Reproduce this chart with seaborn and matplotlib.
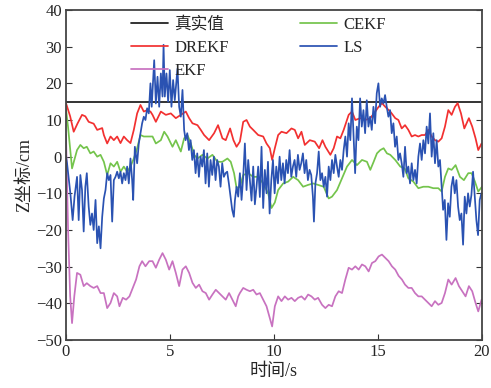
import matplotlib
matplotlib.use('Agg')
import matplotlib.pyplot as plt
import seaborn as sns
import pandas as pd

# values, (time s, Z cm)
truth_pts = [(0, 15), (20, 15)]

drekf_pts = [(0, 14.6), (0.2, 11), (0.37, 6.8), (0.55, 9), (0.77, 11.4), (0.93, 11), (1.09, 9.5), (1.33, 9),
             (1.5, 7.3), (1.74, 7.8), (1.82, 5.9), (1.98, 3.6), (2.14, 5.5), (2.3, 4.5), (2.46, 5.5), (2.62, 3.7),
             (2.78, 5.5), (2.94, 4.5), (3.1, 3.7), (3.26, 7.3), (3.42, 11.8), (3.58, 14.1), (3.74, 12.3),
             (3.9, 12.7), (4.06, 12.3), (4.16, 11.4), (4.32, 9.5), (4.56, 12.3), (4.8, 11.4), (5.04, 11.8),
             (5.28, 10.5), (5.52, 11.4), (5.76, 12.3), (5.92, 10.5), (6.08, 9.1), (6.32, 8.6), (6.48, 7.3),
             (6.64, 5.9), (6.88, 4.5), (7.12, 6.4), (7.31, 8.6), (7.52, 5), (7.68, 4.5), (7.89, 7.7), (8.05, 4.5),
             (8.2, 2.7), (8.36, 4.1), (8.52, 9.5), (8.68, 10), (8.84, 8.2), (9.0, 7.3), (9.24, 5.9), (9.48, 5.5),
             (9.64, 3.6), (9.8, 2.3), (9.91, -0.9), (10.04, 2.3), (10.2, 5.9), (10.36, 6.8), (10.6, 6.4),
             (10.84, 7.7), (11.0, 7.3), (11.16, 5), (11.32, 6.8), (11.48, 3.2), (11.72, 4.5), (11.96, 4.1),
             (12.17, 2.3), (12.33, 4.5), (12.47, 2.7), (12.71, 0.5), (12.87, 2.3), (13.03, 5.5), (13.19, 5),
             (13.35, 7.3), (13.59, 11.4), (13.75, 12.3), (13.91, 10), (14.15, 10.5), (14.39, 10), (14.63, 10.5),
             (14.87, 12.3), (15.03, 13.6), (15.19, 14.6), (15.35, 13.6), (15.59, 12.3), (15.83, 10.5),
             (15.98, 10), (16.14, 7.7), (16.3, 8.6), (16.46, 7.3), (16.62, 5.5), (16.78, 5.9), (16.94, 5.5),
             (17.1, 5.9), (17.26, 5.9), (17.42, 7.3), (17.58, 5.5), (17.74, 4.5), (17.9, 4.1), (18.06, 5),
             (18.22, 8.2), (18.38, 12.7), (18.54, 11.4), (18.7, 13.6), (18.83, 14.6), (18.99, 11.8),
             (19.15, 7.7), (19.37, 10.5), (19.53, 8.2), (19.69, 5), (19.82, 1.8), (19.98, 3.6)]

ekf_pts = [(0, 6), (0.1, -20), (0.2, -38), (0.29, -45.4), (0.4, -38), (0.53, -31.7), (0.69, -32.2),
           (0.85, -35.3), (1.0, -34.5), (1.17, -35.3), (1.33, -35.8), (1.5, -35.3), (1.66, -37.2),
           (1.82, -37.2), (1.98, -41.3), (2.14, -39.9), (2.3, -37.2), (2.46, -38.1), (2.57, -40.8),
           (2.73, -38.5), (2.89, -39), (3.05, -38.1), (3.21, -35.8), (3.37, -33.5), (3.53, -29.9),
           (3.66, -28.5), (3.82, -29.9), (4.0, -28.5), (4.16, -28.5), (4.32, -30.3), (4.48, -28.1),
           (4.64, -26.3), (4.8, -28.1), (4.96, -30.8), (5.12, -28.5), (5.28, -31.7), (5.44, -35.3),
           (5.6, -30.8), (5.76, -29.9), (5.92, -31.7), (6.08, -34.4), (6.24, -35.8), (6.4, -34.9),
           (6.56, -36.7), (6.72, -37.2), (6.88, -39), (7.04, -37.6), (7.2, -36.3), (7.36, -37.2),
           (7.52, -38.1), (7.68, -39), (7.84, -37.2), (8.0, -39), (8.16, -40.8), (8.28, -38.1), (8.36, -37.2),
           (8.52, -35.8), (8.68, -36.3), (8.84, -36.7), (9.0, -36.3), (9.16, -37.6), (9.32, -37.2),
           (9.48, -39), (9.64, -40.8), (9.8, -44), (9.91, -46.3), (10.04, -40.8), (10.2, -38.1),
           (10.36, -39.4), (10.52, -38.1), (10.68, -39), (10.84, -38.5), (11.0, -39.4), (11.16, -38.5),
           (11.32, -38.1), (11.48, -39), (11.64, -37.6), (11.8, -38.1), (11.96, -39), (12.12, -38.5),
           (12.31, -40.4), (12.47, -41.3), (12.63, -40.4), (12.79, -40.8), (12.95, -38.1), (13.11, -36.7),
           (13.27, -37.2), (13.43, -33.5), (13.59, -30.3), (13.75, -30.8), (13.91, -29.9), (14.07, -30.8),
           (14.23, -29.4), (14.39, -29.9), (14.55, -31.3), (14.71, -29), (14.87, -28.5), (15.03, -27.2),
           (15.19, -26.7), (15.35, -27.6), (15.51, -28.5), (15.67, -29.9), (15.83, -30.8), (15.99, -32.5),
           (16.15, -33.5), (16.3, -34.9), (16.46, -35.8), (16.62, -35.8), (16.78, -37.2), (16.94, -38.1),
           (17.1, -38.1), (17.26, -39), (17.42, -39.9), (17.58, -40.8), (17.74, -39.4), (17.9, -40.4),
           (18.06, -39.9), (18.22, -37.2), (18.38, -33.5), (18.54, -34.9), (18.73, -33.1), (18.89, -35.3),
           (19.05, -36.7), (19.21, -38.1), (19.37, -35.3), (19.53, -36.7), (19.69, -39.9), (19.82, -42.2),
           (19.98, -39)]

cekf_pts = [(0, 13), (0.1, 8), (0.29, -3.2), (0.53, 1.8), (0.69, 3.2), (0.85, 2.3), (1.0, 2.7), (1.17, 0.9),
            (1.33, 1.4), (1.5, 0), (1.66, 0.5), (1.82, -1.4), (1.98, -5), (2.14, -1.8), (2.3, -2.7),
            (2.46, -1.4), (2.62, -4.1), (2.78, -2.7), (2.94, -4.1), (3.1, -2.7), (3.26, -0.5), (3.42, 2.3),
            (3.58, 5.9), (3.74, 5.5), (3.9, 5.5), (4.16, 5.5), (4.32, 3.6), (4.56, 4.5), (4.72, 6.8),
            (4.88, 5.5), (5.12, 2.7), (5.28, 4.5), (5.52, 1.4), (5.68, 5), (5.84, 5.9), (6.0, 3.6), (6.16, 0.5),
            (6.32, -0.5), (6.56, 0.5), (6.8, -0.5), (7.04, 0.5), (7.28, -1.4), (7.52, -1.4), (7.76, -0.5),
            (7.92, -1.4), (8.08, -4.5), (8.2, -8.6), (8.36, -8.2), (8.52, -5), (8.76, -4.5), (9.0, -5.5),
            (9.24, -5.5), (9.48, -7.3), (9.72, -10), (9.88, -14), (10.04, -12.5), (10.2, -9.1), (10.44, -7.3),
            (10.68, -6.8), (10.92, -5.5), (11.16, -6.4), (11.4, -8.2), (11.64, -7.7), (11.88, -7.3),
            (12.12, -7.7), (12.39, -8.2), (12.63, -11.4), (12.79, -10.9), (13.03, -9.1), (13.27, -5.9),
            (13.51, -2.7), (13.75, -0.9), (13.99, -2.3), (14.23, -0.9), (14.47, -1.4), (14.63, -3.6),
            (14.79, -1.4), (14.95, 0.9), (15.11, 1.8), (15.27, 2.3), (15.43, 0.9), (15.59, 0.5), (15.83, -0.9),
            (16.07, -2.7), (16.28, -3.2), (16.46, -5.9), (16.7, -6.8), (16.94, -8.6), (17.18, -8.2),
            (17.42, -8.2), (17.66, -8.6), (17.9, -8.6), (18.06, -9.5), (18.22, -5.5), (18.38, -3.2),
            (18.54, -3.6), (18.73, -2.3), (18.94, -5.5), (19.13, -6.4), (19.34, -4.5), (19.5, -4.5),
            (19.66, -6.8), (19.82, -9.5), (20, -8.2)]

ls_pts = [(0, 0), (0.05, -1.8), (0.21, -10), (0.32, -17.3), (0.41, -10.9), (0.53, -5.5), (0.61, -17.3),
          (0.69, -5), (0.77, -9.1), (0.85, -20.4), (0.93, -8.2), (1.0, -4.5), (1.09, -13.6), (1.17, -18.6),
          (1.25, -15.5), (1.33, -20), (1.42, -11.8), (1.5, -23.6), (1.58, -19), (1.66, -25), (1.74, -16.4),
          (1.82, -11.4), (1.9, -9.1), (1.98, -4.5), (2.06, -6.4), (2.14, -5), (2.22, -17.7), (2.3, -6.4),
          (2.38, -5.5), (2.46, -4.1), (2.54, -5.9), (2.62, -4.1), (2.7, -7.3), (2.78, -4.5), (2.86, -6.4),
          (2.94, -2.7), (3.02, -7.3), (3.1, -0.5), (3.18, -6.4), (3.23, -11.8), (3.31, 2.7), (3.42, -1.8),
          (3.5, 3.6), (3.58, 6.4), (3.66, 9.1), (3.74, 10.9), (3.82, 10), (3.9, 13.2), (3.98, 11.8),
          (4.06, 20), (4.12, 13.6), (4.24, 26.3), (4.32, 14.5), (4.4, 21.8), (4.48, 13.6), (4.56, 22.7),
          (4.64, 16.4), (4.69, 30.5), (4.75, 16.4), (4.83, 22.7), (4.91, 15), (4.99, 23.6), (5.07, 13.6),
          (5.15, 20.9), (5.23, 15.4), (5.36, 24), (5.44, 13.6), (5.52, 10.9), (5.6, 18.2), (5.68, 7.3),
          (5.75, 4.5), (5.83, 6.4), (5.91, 1.8), (5.99, 4.5), (6.07, -0.9), (6.15, 1.8), (6.23, -4.5),
          (6.31, 0.9), (6.39, -5.5), (6.47, 0), (6.55, -2.7), (6.63, 1.8), (6.71, -7.3), (6.79, 0.9),
          (6.87, -8.2), (6.95, -0.9), (7.03, -5), (7.11, 0), (7.19, -6.4), (7.27, -0.9), (7.35, -2.7),
          (7.43, -8.2), (7.51, -1.8), (7.59, -5.5), (7.67, -4.5), (7.75, -4.1), (7.83, -7.3), (7.91, -10.9),
          (7.99, -14.5), (8.07, -16.4), (8.12, -12), (8.2, -8.2), (8.28, -10.9), (8.36, -4.5), (8.44, -11.8),
          (8.52, -5.5), (8.6, 3.6), (8.68, -9.1), (8.76, -0.9), (8.84, -6.4), (8.92, -12), (9.0, -2.7),
          (9.08, -13), (9.16, -8.2), (9.24, -2.7), (9.32, -11), (9.4, 2.7), (9.48, -14), (9.56, -3.6),
          (9.64, -10), (9.71, -1.4), (9.79, -15.5), (9.87, -6.4), (9.95, -0.9), (10.03, -10), (10.11, -2.7),
          (10.19, -7.3), (10.27, 0), (10.35, -6.4), (10.43, -1.8), (10.51, -7.3), (10.59, -0.9),
          (10.67, -4.5), (10.75, 1.8), (10.83, -5.5), (10.91, -2.7), (10.99, -0.9), (11.07, -5.5),
          (11.15, 0.5), (11.23, -3.6), (11.31, -1.8), (11.39, 0.9), (11.47, -4.5), (11.55, -0.9),
          (11.63, -6.4), (11.71, -3.6), (11.79, -5), (11.87, -10.9), (11.92, -17.7), (11.99, -7.3),
          (12.07, -4.5), (12.15, 1.4), (12.23, -6.4), (12.31, -4.5), (12.39, -8.2), (12.47, -5.5),
          (12.55, -10.9), (12.63, -2.7), (12.71, -6.4), (12.79, -0.9), (12.87, -4.5), (12.95, 0.5),
          (13.03, -2.7), (13.11, -5.5), (13.19, -0.9), (13.27, -3.6), (13.35, 1.8), (13.43, 5.5), (13.51, 0),
          (13.59, 9.1), (13.67, 4.5), (13.75, 15.9), (13.82, 6.4), (13.9, -4.5), (13.98, 8.2), (14.06, 4.5),
          (14.14, 15.9), (14.22, 8.2), (14.3, 12.7), (14.38, 6.4), (14.46, 15.4), (14.54, 8.2), (14.62, 10.9),
          (14.7, 7.3), (14.78, 13.6), (14.86, 9.1), (14.94, 17.3), (15.02, 20), (15.1, 13.6), (15.18, 15.9),
          (15.26, 14.5), (15.34, 16.8), (15.42, 13.6), (15.5, 10.9), (15.58, 12.7), (15.66, 6.4),
          (15.74, 9.1), (15.82, 2.7), (15.9, 5.5), (15.98, -0.9), (16.06, 0.9), (16.14, -1.8), (16.22, -5.5),
          (16.3, 2.7), (16.38, -4.5), (16.46, -2.7), (16.54, -7.3), (16.62, -1.8), (16.7, -6.4),
          (16.78, -3.6), (16.86, -7.3), (16.94, 0), (17.02, 3.6), (17.1, -0.9), (17.18, 4.5), (17.26, 0.9),
          (17.34, 8.2), (17.42, 3.6), (17.5, 11.8), (17.58, 0), (17.66, 6.4), (17.74, -1.8), (17.82, 4.5),
          (17.9, -2.7), (17.98, -0.9), (18.05, -7.3), (18.13, -14.5), (18.21, -11.8), (18.29, -22.7),
          (18.37, -12.7), (18.45, -16.4), (18.53, -8.2), (18.61, -5.5), (18.69, -10), (18.77, -6.4),
          (18.85, -13.6), (18.93, -17.3), (19.01, -15.5), (19.09, -24), (19.17, -10.9), (19.25, -15.5),
          (19.33, -10), (19.41, -13.6), (19.49, -10.5), (19.57, -4.1), (19.65, -10.9), (19.73, -17.3),
          (19.81, -21.4), (19.89, -11.8), (19.97, -10)]

labels = ['真实值', 'DREKF', 'EKF', 'CEKF', 'LS']
colors = ['#1a1a1a', '#f23030', '#c872c0', '#74c44c', '#2a52b2']
xticks = [0, 5, 10, 15, 20]
yticks = [-50, -40, -30, -20, -10, 0, 10, 20, 30, 40]

frames = []
for name, pts in zip(labels, [truth_pts, drekf_pts, ekf_pts, cekf_pts, ls_pts]):
    d = pd.DataFrame(pts, columns=['t', 'z'])
    d['series'] = name
    frames.append(d)
df = pd.concat(frames, ignore_index=True)

sns.set_style('ticks')
plt.rcParams['font.family'] = ['Liberation Serif', 'Noto Sans CJK SC', 'DejaVu Sans']
plt.rcParams['axes.unicode_minus'] = True

fig = plt.figure(figsize=(4.91, 3.88), dpi=100)
ax = fig.add_axes([66 / 491, 48 / 388, 416 / 491, 330 / 388])

sns.lineplot(data=df, x='t', y='z', hue='series', hue_order=labels,
             palette=dict(zip(labels, colors)), estimator=None, errorbar=None,
             linewidth=1.25, ax=ax)

ax.set_xlim(0, 20)
ax.set_ylim(-50, 40)
ax.set_xticks(xticks)
ax.set_yticks(yticks)
ax.tick_params(direction='in', length=4, labelsize=12, right=True, labelright=False,
               color='#333333', pad=3)
for s in ax.spines.values():
    s.set_visible(True)
    s.set_linewidth(1.3)
    s.set_color('#444444')

ax.set_xlabel('时间/s', fontsize=13, labelpad=2)
ax.set_ylabel('Z坐标/cm', fontsize=13, labelpad=2)

ax.legend(ncol=2, frameon=False, fontsize=12, loc='upper left',
          bbox_to_anchor=(0.12, 1.025), handlelength=2.2, handletextpad=0.4,
          columnspacing=4.3, labelspacing=0.42)

plt.savefig('out.png', dpi=100)
